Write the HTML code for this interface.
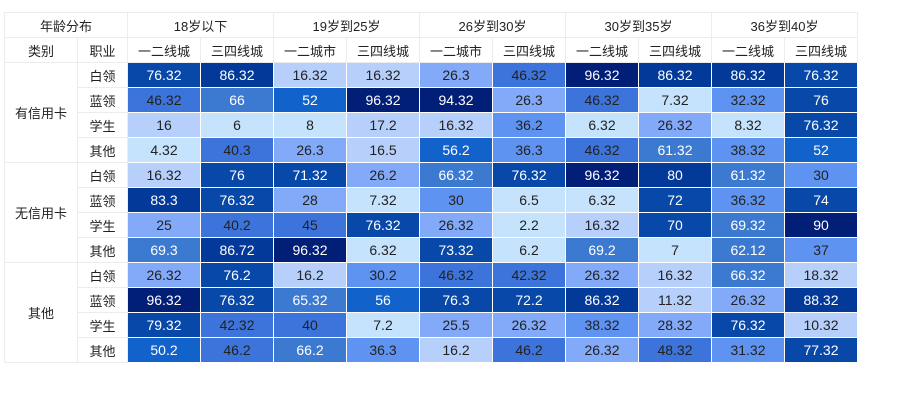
<!DOCTYPE html>
<html><head><meta charset="utf-8"><style>
body{margin:0;background:#fff;width:897px;height:416px;overflow:hidden;font-family:"Liberation Sans","Noto Sans CJK SC",sans-serif;}
table{position:absolute;left:4px;top:12px;border-collapse:collapse;table-layout:fixed;}
td{height:25px;padding:0;text-align:center;font-size:13px;color:#222;box-sizing:border-box;}
td.h{border:1px solid #ececec;background:#fff;}
td.c{border:1px solid #fff;font-size:14px;}
</style></head><body>
<table id="tbl">
<colgroup><col style="width:73px"><col style="width:50px"><col span="10" style="width:73px"></colgroup>
<tbody id="tb"></tbody></table>
<script>
const ages=["18岁以下","19岁到25岁","26岁到30岁","30岁到35岁","36岁到40岁"];
const cities=["一二线城","三四线城","一二城市","三四线城","一二城市","三四线城","一二线城","三四线城","一二线城","三四线城"];
const groups=["有信用卡","无信用卡","其他"];
const jobs=["白领","蓝领","学生","其他"];
const values=[
[76.32,86.32,16.32,16.32,26.3,46.32,96.32,86.32,86.32,76.32],
[46.32,66,52,96.32,94.32,26.3,46.32,7.32,32.32,76],
[16,6,8,17.2,16.32,36.2,6.32,26.32,8.32,76.32],
[4.32,40.3,26.3,16.5,56.2,36.3,46.32,61.32,38.32,52],
[16.32,76,71.32,26.2,66.32,76.32,96.32,80,61.32,30],
[83.3,76.32,28,7.32,30,6.5,6.32,72,36.32,74],
[25,40.2,45,76.32,26.32,2.2,16.32,70,69.32,90],
[69.3,86.72,96.32,6.32,73.32,6.2,69.2,7,62.12,37],
[26.32,76.2,16.2,30.2,46.32,42.32,26.32,16.32,66.32,18.32],
[96.32,76.32,65.32,56,76.3,72.2,86.32,11.32,26.32,88.32],
[79.32,42.32,40,7.2,25.5,26.32,38.32,28.32,76.32,10.32],
[50.2,46.2,66.2,36.3,16.2,46.2,26.32,48.32,31.32,77.32]];
const palette=["#c5e3fd","#b7d0fb","#82aaf8","#5f93f2","#3d74db","#1262cc","#3b7ad0","#0848a8","#033a9a","#021f78"];
function color(v){return palette[Math.min(9,Math.floor(v/10))];}
const tb=document.getElementById('tb');
let tr=document.createElement('tr');
let td=document.createElement('td');td.className='h';td.colSpan=2;td.textContent='年龄分布';


tr.appendChild(td);
ages.forEach(a=>{const t=document.createElement('td');t.className='h';t.colSpan=2;t.textContent=a;


tr.appendChild(t);});
tb.appendChild(tr);
tr=document.createElement('tr');
["类别","职业"].concat(cities).forEach(c=>{const t=document.createElement('td');t.className='h';t.textContent=c;


tr.appendChild(t);});
tb.appendChild(tr);
values.forEach((row,i)=>{
  const r=document.createElement('tr');
  if(i%4===0){const g=document.createElement('td');g.className='h';g.rowSpan=4;g.textContent=groups[i/4];
    
    
    r.appendChild(g);}
  const j=document.createElement('td');j.className='h';j.textContent=jobs[i%4];
  
  
  r.appendChild(j);
  row.forEach(v=>{const c=document.createElement('td');c.className='c';c.textContent=v;
    c.style.background=color(v);c.style.color=v>=50?'#fff':'#222';
    
    
    r.appendChild(c);});
  tb.appendChild(r);
});
</script>
</body></html>
